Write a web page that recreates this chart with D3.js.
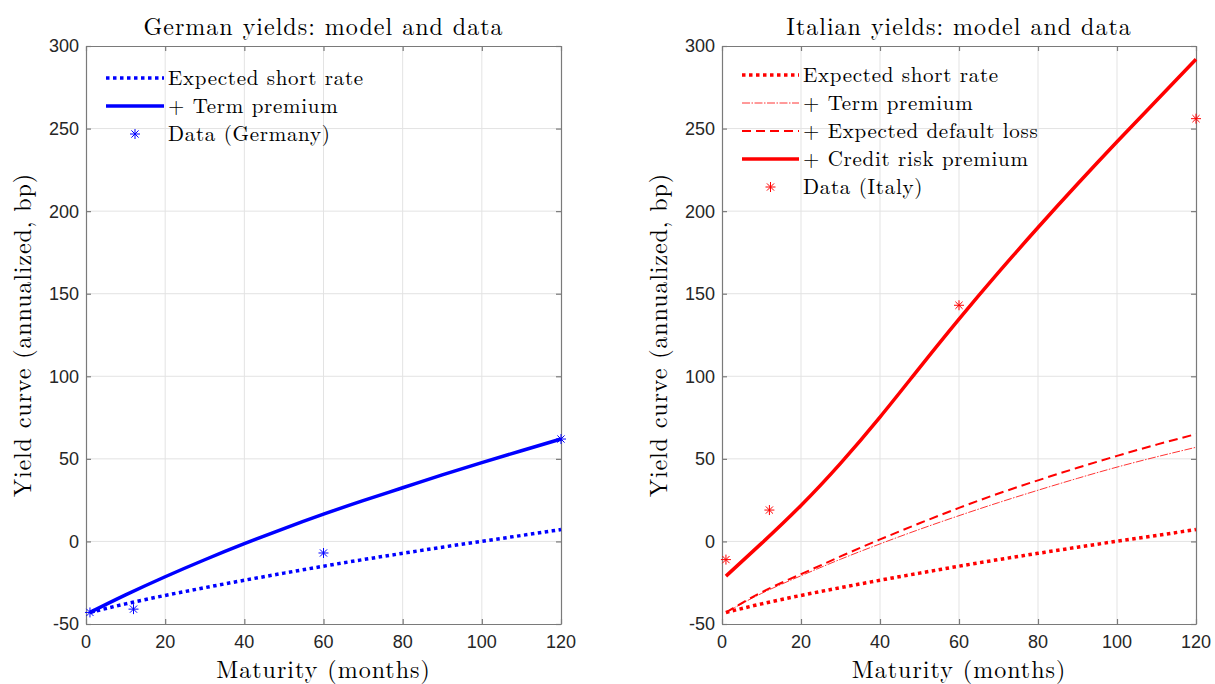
<!DOCTYPE html>
<html>
<head>
<meta charset="utf-8">
<script src="https://cdn.jsdelivr.net/npm/d3@7"></script>
<style>
  body { margin: 0; background: #fff; }
  svg { display: block; }
</style>
</head>
<body>
<svg id="chart" width="1215" height="684"></svg>
<script>
const maturity = [1, 10, 20, 30, 40, 50, 60, 70, 80, 90, 100, 110, 120];

// Germany
const deShortRate = [-43, -37.8, -32.7, -28, -23.5, -19.2, -15, -11, -7.2, -3.5, 0.1, 3.6, 7.2];
const deTermPremium = [-43, -32.4, -21.4, -11.1, -1.4, 7.8, 16.5, 24.7, 32.5, 40.3, 47.7, 54.9, 62];
const deDataMaturity = [1, 12, 60, 120];
const deData = [-43, -41, -7, 62];

// Italy
const itShortRate = [-43, -37.8, -32.7, -28, -23.5, -19.2, -15, -11, -7.2, -3.5, 0.1, 3.6, 7.2];
const itTermPremium = [-43, -31.5, -20.8, -10.8, -1.5, 7.3, 15.6, 23.5, 31, 38.2, 45, 51.2, 57];
const itDefaultLoss = [-43, -30.8, -19.8, -9.1, 1.2, 11, 20.3, 29, 37, 44.6, 51.8, 58.6, 65];
const itCreditPremium = [-21, -1.2, 21.8, 47.3, 75.3, 105.1, 134.6, 162.9, 190.1, 216.4, 242, 267, 292];
const itDataMaturity = [1, 12, 60, 120];
const itData = [-11, 19, 143, 256];

const xTicks = [0, 20, 40, 60, 80, 100, 120];
const yTicks = [-50, 0, 50, 100, 150, 200, 250, 300];

const svg = d3.select('#chart');
const serif = '"Latin Modern Roman", "CMU Serif", "Liberation Serif", serif';
const sans = '"Liberation Sans", Arial, sans-serif';

const styles = {
  dotted: { width: 3.5, dash: '3.5,3.5' },
  solid: { width: 3.5, dash: null },
  dashed: { width: 2, dash: '9,5' },
  thin: { width: 0.8, dash: '8,1.5,1.5,1.5' }
};

function star(g, x, y, color) {
  const s = 5, d = 3.6;
  g.append('path')
    .attr('d', `M${x},${y - s}V${y + s}M${x - s},${y}H${x + s}M${x - d},${y - d}L${x + d},${y + d}M${x - d},${y + d}L${x + d},${y - d}`)
    .attr('stroke', color)
    .attr('stroke-width', 1)
    .attr('fill', 'none');
}

function drawPanel(p) {
  const g = svg.append('g');
  const x = d3.scaleLinear().domain([0, 120]).range([p.left, p.right]);
  const y = d3.scaleLinear().domain([-50, 300]).range([p.bottom, p.top]);

  // grid
  g.selectAll('.vgrid').data(xTicks.slice(1, -1)).enter().append('line')
    .attr('x1', d => x(d)).attr('x2', d => x(d))
    .attr('y1', p.top).attr('y2', p.bottom)
    .attr('stroke', '#e3e3e3').attr('stroke-width', 1);
  g.selectAll('.hgrid').data(yTicks.slice(1, -1)).enter().append('line')
    .attr('y1', d => y(d)).attr('y2', d => y(d))
    .attr('x1', p.left).attr('x2', p.right)
    .attr('stroke', '#e3e3e3').attr('stroke-width', 1);

  // axes (box with inward ticks on all sides)
  const axisColor = '#7a7a7a';
  const ax = [
    d3.axisBottom(x).tickValues(xTicks).tickSizeInner(-5).tickSizeOuter(0).tickFormat(''),
    d3.axisTop(x).tickValues(xTicks).tickSizeInner(-5).tickSizeOuter(0).tickFormat(''),
    d3.axisLeft(y).tickValues(yTicks).tickSizeInner(-5).tickSizeOuter(0).tickFormat(''),
    d3.axisRight(y).tickValues(yTicks).tickSizeInner(-5).tickSizeOuter(0).tickFormat('')
  ];
  const pos = [`translate(0,${p.bottom})`, `translate(0,${p.top})`, `translate(${p.left},0)`, `translate(${p.right},0)`];
  ax.forEach((a, i) => {
    const ga = g.append('g').attr('transform', pos[i]).call(a);
    ga.selectAll('path,line').attr('stroke', axisColor).attr('stroke-width', 1.2);
  });

  // tick labels
  g.selectAll('.xl').data(xTicks).enter().append('text')
    .attr('x', d => x(d)).attr('y', p.bottom + 24)
    .attr('text-anchor', 'middle')
    .style('font-family', sans).style('font-size', '18px').attr('fill', '#262626')
    .text(d => d);
  g.selectAll('.yl').data(yTicks).enter().append('text')
    .attr('x', p.left - 7).attr('y', d => y(d)).attr('dy', '0.36em')
    .attr('text-anchor', 'end')
    .style('font-family', sans).style('font-size', '18px').attr('fill', '#262626')
    .text(d => d);

  // titles
  g.append('text')
    .attr('x', (p.left + p.right) / 2).attr('y', 35)
    .attr('text-anchor', 'middle')
    .style('font-family', serif).style('font-size', '24px').style('letter-spacing', '1px')
    .text(p.title);
  g.append('text')
    .attr('x', (p.left + p.right) / 2).attr('y', 678)
    .attr('text-anchor', 'middle')
    .style('font-family', serif).style('font-size', '24px').style('letter-spacing', '1px')
    .text('Maturity (months)');
  g.append('text')
    .attr('transform', `translate(${p.ylabelX},${(p.top + p.bottom) / 2}) rotate(-90)`)
    .attr('text-anchor', 'middle')
    .style('font-family', serif).style('font-size', '24px').style('letter-spacing', '0.9px')
    .text('Yield curve (annualized, bp)');

  // curves
  const line = d3.line()
    .x((d, i) => x(maturity[i]))
    .y(d => y(d))
    .curve(d3.curveNatural);
  p.series.forEach(s => {
    const st = styles[s.style];
    g.append('path')
      .datum(s.values)
      .attr('d', line)
      .attr('fill', 'none')
      .attr('stroke', p.color)
      .attr('stroke-width', st.width)
      .attr('stroke-dasharray', st.dash);
  });

  // data points
  p.dataValues.forEach((v, i) => star(g, x(p.dataMaturity[i]), y(v), p.color));

  // legend
  const lg = g.append('g');
  p.series.concat([{ name: p.dataName, style: 'marker' }]).forEach((s, i) => {
    const ry = p.legendY + i * 28;
    if (s.style === 'marker') {
      star(lg, (p.legendX0 + p.legendX1) / 2, ry, p.color);
    } else {
      const st = styles[s.style];
      lg.append('line')
        .attr('x1', p.legendX0).attr('x2', p.legendX1)
        .attr('y1', ry).attr('y2', ry)
        .attr('stroke', p.color)
        .attr('stroke-width', st.width)
        .attr('stroke-dasharray', st.dash);
    }
    lg.append('text')
      .attr('x', p.legendX1 + 4).attr('y', ry + 7)
      .style('font-family', serif).style('font-size', '21px').style('letter-spacing', '0.7px')
      .text(s.name);
  });
}

drawPanel({
  left: 86, right: 561, top: 46, bottom: 624, ylabelX: 31,
  title: 'German yields: model and data',
  color: '#0000ff',
  series: [
    { name: 'Expected short rate', values: deShortRate, style: 'dotted' },
    { name: '+ Term premium', values: deTermPremium, style: 'solid' }
  ],
  dataName: 'Data (Germany)', dataMaturity: deDataMaturity, dataValues: deData,
  legendX0: 106, legendX1: 164, legendY: 78
});

drawPanel({
  left: 722, right: 1196, top: 46, bottom: 624, ylabelX: 667,
  title: 'Italian yields: model and data',
  color: '#ff0000',
  series: [
    { name: 'Expected short rate', values: itShortRate, style: 'dotted' },
    { name: '+ Term premium', values: itTermPremium, style: 'thin' },
    { name: '+ Expected default loss', values: itDefaultLoss, style: 'dashed' },
    { name: '+ Credit risk premium', values: itCreditPremium, style: 'solid' }
  ],
  dataName: 'Data (Italy)', dataMaturity: itDataMaturity, dataValues: itData,
  legendX0: 742, legendX1: 799, legendY: 75
});
</script>
</body>
</html>
